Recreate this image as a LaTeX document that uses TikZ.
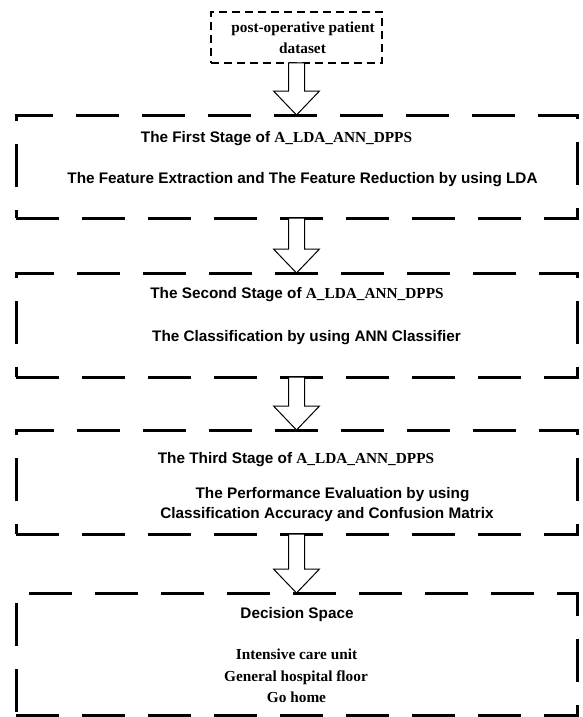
\documentclass[tikz,border=0pt]{standalone}
\usepackage{fontspec}
\setmainfont{Liberation Serif}
\setsansfont{Liberation Sans}
\usetikzlibrary{calc}
\begin{document}
\begin{tikzpicture}[x=1pt,y=-1pt,
  bigbox/.style={draw,line width=3pt,dash pattern=on 43pt off 23pt,inner sep=0pt,outer sep=0pt},
  smallbox/.style={draw,line width=1.3pt,dash pattern=on 8pt off 5pt,inner sep=0pt,outer sep=0pt},
  blockarrow/.style={draw,fill=white,line width=1pt,line join=miter},
  stxt/.style={inner sep=0pt,text height=11pt,text depth=3pt,font=\sffamily\bfseries\fontsize{15.3}{18}\selectfont},
  rtxt/.style={inner sep=0pt,text height=11pt,text depth=3pt,font=\rmfamily\bfseries\fontsize{15.3}{18}\selectfont}]
\useasboundingbox (0,0) rectangle (582,717);
% boxes
\node[smallbox,minimum width=171pt,minimum height=51pt] (b0) at (296.5,37.5) {};
\node[bigbox,minimum width=561pt,minimum height=103pt] (b1) at (296.5,166.5) {};
\node[bigbox,minimum width=561pt,minimum height=104pt] (b2) at (296.5,325) {};
\node[bigbox,minimum width=561pt,minimum height=104pt] (b3) at (296.5,482) {};
\node[bigbox,minimum width=561pt,minimum height=122pt] (b4) at (296.5,654) {};
% texts
\node[rtxt] (t0a) at (303,29) {post-operative patient};
\node[rtxt] (t0b) at (302.5,50) {dataset};
\node[stxt] (t1a) at (276.5,138) {The First Stage of {\rmfamily A\_LDA\_ANN\_DPPS}};
\node[stxt] (t1b) at (302.5,179) {The Feature Extraction and The Feature Reduction by using LDA};
\node[stxt] (t2a) at (297,294) {The Second Stage of {\rmfamily A\_LDA\_ANN\_DPPS}};
\node[stxt] (t2b) at (306.5,337) {The Classification by using ANN Classifier};
\node[stxt] (t3a) at (296,459) {The Third Stage of {\rmfamily A\_LDA\_ANN\_DPPS}};
\node[stxt] (t3b) at (332.5,494) {The Performance Evaluation by using};
\node[stxt] (t3c) at (327,514) {Classification Accuracy and Confusion Matrix};
\node[stxt] (t4a) at (297,614) {Decision Space};
\node[rtxt] (t4b) at (296.5,655) {Intensive care unit};
\node[rtxt] (t4c) at (296,677) {General hospital floor};
\node[rtxt] (t4d) at (296.5,698) {Go home};
% block arrows
\foreach \a/\b in {b0/b1,b1/b2,b2/b3,b3/b4}{
  \draw[blockarrow] ([xshift=-8pt]\a.south) -- ([xshift=-8pt,yshift=24pt]\b.north)
    -- ([xshift=-23pt,yshift=24pt]\b.north) -- (\b.north)
    -- ([xshift=23pt,yshift=24pt]\b.north) -- ([xshift=8pt,yshift=24pt]\b.north)
    -- ([xshift=8pt]\a.south) -- cycle;
}
\end{tikzpicture}
\end{document}
